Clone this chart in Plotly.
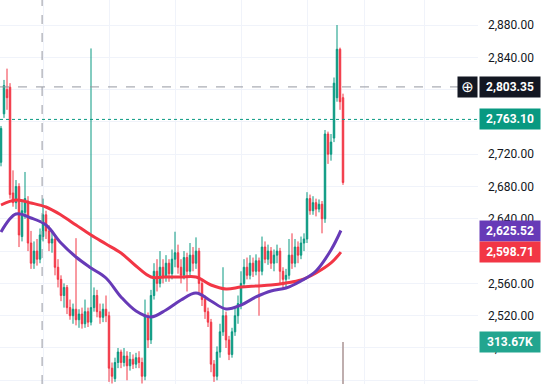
import plotly.graph_objects as go

# ---- candle data (index = bar number) ----
opens = [2710, 2770, 2800, 2803, 2672, 2660, 2680, 2618, 2648, 2662,
         2610, 2585, 2600, 2590, 2618, 2645, 2625, 2610, 2615, 2580,
         2565, 2545, 2555, 2530, 2520, 2528, 2515, 2522, 2510, 2525,
         2512, 2530, 2545, 2525, 2518, 2528, 2520, 2455, 2442, 2462,
         2475, 2462, 2470, 2458, 2466, 2460, 2468, 2462, 2445, 2520,
         2490, 2545, 2575, 2560, 2580, 2568, 2585, 2572, 2590, 2598,
         2580, 2570, 2592, 2575, 2595, 2585, 2600, 2560, 2540, 2525,
         2512, 2460, 2445, 2475, 2500, 2520, 2490, 2472, 2500, 2520,
         2535, 2560, 2580, 2570, 2585, 2575, 2588, 2575, 2605, 2590,
         2600, 2585, 2595, 2600, 2575, 2565, 2570, 2595, 2585, 2605,
         2595, 2610, 2615, 2665, 2650, 2660, 2652, 2658, 2640, 2745,
         2720, 2740, 2790, 2850, 2790]
highs = [2755, 2812, 2826, 2808, 2700, 2688, 2684, 2662, 2698, 2668,
         2625, 2612, 2615, 2628, 2665, 2650, 2632, 2625, 2620, 2590,
         2570, 2560, 2558, 2540, 2535, 2616, 2528, 2530, 2540, 2530,
         2851, 2555, 2552, 2535, 2535, 2545, 2525, 2462, 2468, 2480,
         2478, 2480, 2476, 2475, 2472, 2474, 2476, 2468, 2540, 2524,
         2552, 2585, 2590, 2600, 2590, 2595, 2590, 2602, 2624, 2608,
         2590, 2600, 2598, 2610, 2605, 2617, 2604, 2565, 2545, 2530,
         2516, 2465, 2482, 2510, 2580, 2525, 2495, 2505, 2530, 2545,
         2575, 2590, 2592, 2595, 2592, 2596, 2592, 2618, 2612, 2608,
         2605, 2602, 2608, 2604, 2580, 2578, 2615, 2622, 2615, 2612,
         2618, 2622, 2673, 2670, 2668, 2665, 2664, 2662, 2750, 2748,
         2745, 2815, 2880, 2852, 2795]
lows = [2705, 2765, 2775, 2665, 2655, 2652, 2605, 2612, 2640, 2600,
        2578, 2578, 2582, 2585, 2612, 2615, 2600, 2598, 2570, 2555,
        2538, 2530, 2522, 2515, 2510, 2508, 2505, 2504, 2505, 2506,
        2508, 2525, 2518, 2510, 2512, 2512, 2438, 2436, 2438, 2455,
        2455, 2457, 2440, 2452, 2454, 2455, 2455, 2436, 2440, 2480,
        2485, 2540, 2550, 2555, 2560, 2562, 2562, 2565, 2580, 2572,
        2560, 2565, 2550, 2570, 2575, 2578, 2548, 2532, 2516, 2506,
        2450, 2438, 2440, 2468, 2495, 2480, 2465, 2468, 2495, 2510,
        2528, 2555, 2565, 2565, 2568, 2570, 2520, 2570, 2585, 2583,
        2578, 2575, 2585, 2560, 2552, 2555, 2565, 2578, 2580, 2585,
        2590, 2600, 2610, 2645, 2645, 2643, 2648, 2622, 2635, 2708,
        2712, 2735, 2785, 2775, 2682]
closes = [2752, 2805, 2790, 2670, 2660, 2680, 2620, 2650, 2665, 2610,
          2585, 2600, 2590, 2620, 2645, 2625, 2610, 2615, 2580, 2565,
          2545, 2555, 2530, 2520, 2528, 2515, 2522, 2510, 2525, 2512,
          2530, 2545, 2525, 2518, 2528, 2520, 2455, 2445, 2462, 2475,
          2462, 2470, 2458, 2466, 2460, 2468, 2462, 2445, 2520, 2490,
          2545, 2575, 2560, 2580, 2568, 2585, 2572, 2590, 2598, 2580,
          2570, 2592, 2575, 2595, 2585, 2600, 2560, 2540, 2525, 2512,
          2460, 2445, 2475, 2500, 2520, 2490, 2472, 2500, 2520, 2535,
          2560, 2580, 2570, 2585, 2575, 2588, 2575, 2605, 2590, 2600,
          2585, 2595, 2600, 2575, 2565, 2570, 2595, 2585, 2605, 2595,
          2610, 2615, 2665, 2650, 2660, 2652, 2658, 2640, 2745, 2720,
          2735, 2808, 2850, 2785, 2685]
bars = list(range(len(closes)))

# ---- moving averages (read every 5 bars) ----
ma_bars = [0, 5, 10, 15, 20, 25, 30, 35, 40, 45, 50, 55, 60, 65, 70, 75,
           80, 85, 90, 95, 100, 105, 110, 113.3]
ma_fast = [2623.7, 2645.9, 2641.0, 2632.3, 2610.0, 2592.7, 2579.1, 2566.7,
           2543.2, 2525.8, 2518.4, 2527.1, 2539.4, 2548.1, 2538.2, 2528.3,
           2533.2, 2543.2, 2550.6, 2554.3, 2563.0, 2575.4, 2601.4, 2625.52]
ma_slow = [2657.1, 2663.3, 2659.6, 2654.6, 2644.7, 2632.3, 2619.9, 2608.8,
           2597.6, 2581.5, 2567.9, 2567.9, 2567.9, 2567.9, 2558.0, 2553.1,
           2555.5, 2556.8, 2558.0, 2560.5, 2564.2, 2572.9, 2585.3, 2598.71]

# ---- volume (only the visible part) ----
vol_bars = [113, 114]
volumes = [335000, 313670]

# ---- reference values / labels ----
price_ticks = [2440, 2480, 2520, 2560, 2600, 2640, 2680, 2720, 2760, 2800, 2840, 2880]
covered_ticks = [2600, 2760, 2800]   # hidden behind the price labels
grid_bars = [14, 36, 58, 80, 102, 121, 141]
crosshair_bar = 13.7
crosshair_price = 2803.35
last_price = 2763.10
fast_last = 2625.52
slow_last = 2598.71
vol_last = 313670
vol_label = "313.67K"

UP = "#089981"
DOWN = "#f23645"
PURPLE = "#673ab7"
RED_MA = "#f23645"
FONT = "Roboto"

tick_text = ["" if t in covered_ticks else f"{t:,.2f}" for t in price_ticks]

fig = go.Figure()
fig.add_trace(go.Bar(x=vol_bars, y=volumes, yaxis="y2",
                     marker=dict(color=["rgba(242,54,69,0.55)", "rgba(180,160,160,0.85)"],
                                 line=dict(width=0)),
                     width=[0.25, 0.6], hoverinfo="skip", showlegend=False))
fig.add_trace(go.Candlestick(
    x=bars, open=opens, high=highs, low=lows, close=closes,
    increasing=dict(line=dict(color=UP, width=1), fillcolor=UP),
    decreasing=dict(line=dict(color=DOWN, width=1), fillcolor=DOWN),
    whiskerwidth=0, showlegend=False))
fig.add_trace(go.Scatter(x=ma_bars, y=ma_slow, mode="lines",
                         line=dict(color=RED_MA, width=3, shape="spline"), showlegend=False))
fig.add_trace(go.Scatter(x=ma_bars, y=ma_fast, mode="lines",
                         line=dict(color=PURPLE, width=3, shape="spline"), showlegend=False))

# crosshair and last price lines
fig.add_shape(type="line", xref="x", yref="paper", x0=crosshair_bar, x1=crosshair_bar,
              y0=0, y1=1, line=dict(color="#9598a1", width=1, dash="dash"))
fig.add_shape(type="line", xref="paper", yref="y", x0=0, x1=1,
              y0=crosshair_price, y1=crosshair_price,
              line=dict(color="#9598a1", width=1, dash="dash"))
fig.add_shape(type="line", xref="paper", yref="y", x0=0, x1=1,
              y0=last_price, y1=last_price,
              line=dict(color=UP, width=1, dash="dot"))

def price_label(y, text, bg, yref="y"):
    fig.add_annotation(xref="paper", yref=yref, x=1, y=y, xanchor="left", yanchor="middle",
                       xshift=1, text="<b>" + text + "</b>", showarrow=False,
                       font=dict(family=FONT, size=12, color="white"),
                       bgcolor=bg, borderpad=3, width=54, align="center")

price_label(crosshair_price, f"{crosshair_price:,.2f}", "#131722")
price_label(last_price, f"{last_price:,.2f}", UP)
price_label(fast_last, f"{fast_last:,.2f}", PURPLE)
price_label(slow_last, f"{slow_last:,.2f}", DOWN)
price_label(vol_last, vol_label, "#22a58f", yref="y2")
fig.add_annotation(xref="paper", yref="y", x=1, y=crosshair_price, xanchor="right",
                   yanchor="middle", xshift=0, text="⊕", showarrow=False,
                   font=dict(family="DejaVu Sans", size=15, color="white"),
                   bgcolor="#131722", borderpad=1, width=17, height=18)

fig.update_layout(
    width=548, height=384,
    margin=dict(l=0, r=70, t=0, b=0),
    paper_bgcolor="white", plot_bgcolor="white",
    font=dict(family=FONT, size=12, color="#131722"),
    xaxis=dict(range=[-1/3, 159], tickvals=grid_bars, showticklabels=False,
               showgrid=True, gridcolor="#f0f3fa", gridwidth=1, zeroline=False,
               showline=False, rangeslider=dict(visible=False), fixedrange=True),
    yaxis=dict(range=[2435.4, 2911], side="right", tickvals=price_ticks,
               ticktext=tick_text, showgrid=True, gridcolor="#f0f3fa", zeroline=False,
               showline=False, ticks="", ticklabelstandoff=9,
               tickfont=dict(family=FONT, size=12, color="#131722")),
    yaxis2=dict(range=[250000, 832000], overlaying="y", side="right", visible=False),
    bargap=0,
)

fig.write_html("out.html", config={"displayModeBar": False},
               post_script="document.body.style.margin='0';document.body.style.padding='0';")
